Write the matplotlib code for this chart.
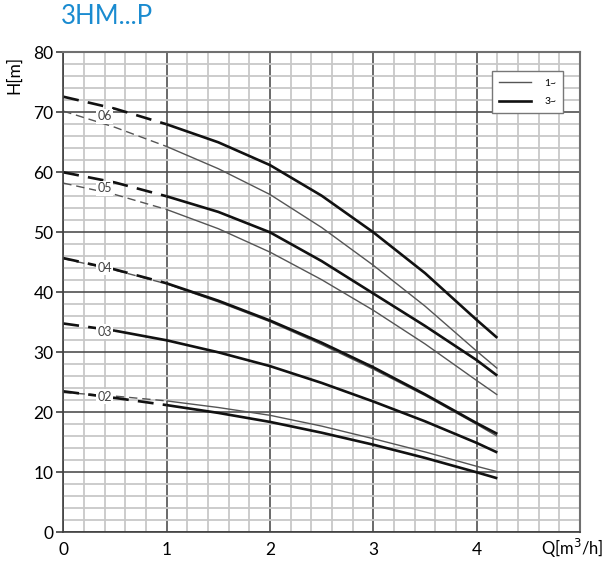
import numpy as np
import matplotlib
matplotlib.use("Agg")
import matplotlib.pyplot as plt
from matplotlib.lines import Line2D

plt.rcParams['font.family'] = ['Lato', 'DejaVu Sans']

# flow points (m3/h) used for every curve
q = [0, 0.5, 1, 1.5, 2, 2.5, 3, 3.5, 4, 4.2]

# head values (m)
h_06_3 = [72.6, 70.6, 68.0, 65.0, 61.2, 56.1, 50.0, 43.2, 35.4, 32.4]
h_06_1 = [70.2, 67.5, 64.3, 60.6, 56.3, 50.8, 44.5, 37.7, 30.2, 27.3]
h_05_3 = [60.0, 58.3, 56.0, 53.4, 50.0, 45.2, 39.8, 34.4, 28.7, 26.1]
h_05_1 = [58.2, 56.3, 53.8, 50.6, 46.7, 42.1, 37.0, 31.4, 25.3, 22.9]
h_04_3 = [45.7, 43.8, 41.5, 38.6, 35.3, 31.6, 27.5, 23.0, 18.2, 16.4]
h_04_1 = [45.6, 43.7, 41.4, 38.4, 35.1, 31.3, 27.2, 22.8, 18.0, 16.0]
h_03_3 = [34.8, 33.6, 32.0, 30.0, 27.7, 24.9, 21.8, 18.5, 14.9, 13.3]
h_02_1 = [23.3, 22.7, 21.9, 20.8, 19.5, 17.7, 15.6, 13.4, 11.0, 10.1]
h_02_3 = [23.5, 22.4, 21.2, 19.9, 18.4, 16.6, 14.6, 12.4, 10.0, 9.0]

models = ["06", "05", "04", "03", "02"]
label_h = [69.3, 57.3, 44.1, 33.4, 22.6]

# (values, phase, index where dashed part ends)
curves = [
    (h_06_1, 1, 2), (h_06_3, 3, 2),
    (h_05_1, 1, 2), (h_05_3, 3, 2),
    (h_04_1, 1, 2), (h_04_3, 3, 2),
    (h_03_3, 3, 1),
    (h_02_1, 1, 2), (h_02_3, 3, 2),
]

fig = plt.figure(figsize=(6.08, 5.66), dpi=100)
W, H = 608, 566
ax = fig.add_axes([63.3 / W, (H - 532.3) / H, (580 - 63.3) / W, (532.3 - 52.3) / H])

ax.set_xlim(0, 5)
ax.set_ylim(0, 80)
ax.set_xticks([0, 1, 2, 3, 4])
ax.set_yticks(range(0, 81, 10))
ax.set_xticks(np.arange(0, 5.01, 0.2), minor=True)
ax.set_yticks(range(0, 81, 2), minor=True)
ax.grid(which="minor", color="#c8c8c8", lw=1.3)
ax.grid(which="major", color="#505050", lw=1.2)
ax.set_axisbelow(True)

for s in ["top", "right"]:
    ax.spines[s].set_color("#707070")
    ax.spines[s].set_linewidth(1.5)
for s in ["left", "bottom"]:
    ax.spines[s].set_color("#404040")
    ax.spines[s].set_linewidth(1.2)

ax.tick_params(axis="y", which="major", length=5, width=1.2, color="#404040",
               labelsize=12.5, pad=2)
ax.tick_params(axis="x", which="major", length=0, labelsize=12.5, pad=7)
ax.tick_params(which="minor", length=0)

qa = np.array(q)
for vals, ph, k in curves:
    v = np.array(vals)
    if ph == 3:
        col, lw = "#111111", 1.9
    else:
        col, lw = "#555555", 1.0
    ax.plot(qa[:k + 1], v[:k + 1], color=col, lw=lw, ls=(0, (6, 3.5)))
    ax.plot(qa[k:], v[k:], color=col, lw=lw, solid_capstyle="butt")

for m, yh in zip(models, label_h):
    ax.text(0.4, yh, m, fontsize=9, color="#444444", ha="center", va="center",
            bbox=dict(boxstyle="square,pad=0.12", fc="white", ec="none"))

handles = [Line2D([], [], color="#555555", lw=1.0),
           Line2D([], [], color="#111111", lw=1.9)]
leg = ax.legend(handles, ["1~", "3~"], loc="upper right", fontsize=7.5,
                bbox_to_anchor=(0.978, 0.972), frameon=True, fancybox=False,
                handlelength=3.0, borderpad=0.7, labelspacing=0.9,
                handletextpad=1.3)
leg.get_frame().set_edgecolor("#777777")
leg.get_frame().set_linewidth(1.0)
leg.get_frame().set_alpha(1)

fig.text(14 / W, 1 - 75 / H, "H[m]", rotation=90, fontsize=12.5,
         ha="center", va="center")
fig.text(604 / W, 1 - 548 / H, "Q[m$^3$/h]", fontsize=12, ha="right",
         va="center")
fig.text(61 / W, 1 - 24 / H, "3HM...P", fontsize=18.5, color="#1a8bd0",
         ha="left", va="baseline")

fig.savefig("out.png", dpi=100)
